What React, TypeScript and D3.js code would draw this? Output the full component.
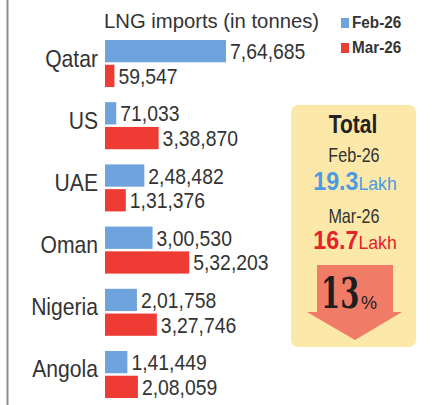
import React from "react";
import * as d3 from "d3";

const countries = ["Qatar", "US", "UAE", "Oman", "Nigeria", "Angola"];
const feb26 = [764685, 71033, 248482, 300530, 201758, 141449];
const mar26 = [59547, 338870, 131376, 532203, 327746, 208059];
const seriesNames = ["Feb-26", "Mar-26"];
const seriesColors = ["#6fa3dd", "#ee3c34"];
const totals = [19.3, 16.7];
const totalUnit = "Lakh";
const changePct = 13;
const title = "LNG imports (in tonnes)";

const W = 443;
const H = 405;
const SANS = "'Liberation Sans', Arial, sans-serif";

const fmtIN = (v: number) => {
  const s = String(Math.round(v));
  if (s.length <= 3) return s;
  const last3 = s.slice(-3);
  let rest = s.slice(0, -3);
  const parts: string[] = [];
  while (rest.length > 2) {
    parts.unshift(rest.slice(-2));
    rest = rest.slice(0, -2);
  }
  if (rest.length) parts.unshift(rest);
  return parts.join(",") + "," + last3;
};

type STProps = {
  x: number;
  y: number;
  sx?: number;
  anchor?: "start" | "middle" | "end";
  children?: React.ReactNode;
  [k: string]: any;
};
function SText({ x, y, sx = 0.88, anchor = "start", children, ...rest }: STProps) {
  return (
    <text transform={`translate(${x},${y}) scale(${sx},1)`} textAnchor={anchor} fontFamily={SANS} {...rest}>
      {children}
    </text>
  );
}

export default function App() {
  const x0 = 105;
  const x = d3.scaleLinear().domain([0, d3.max(feb26) as number]).range([0, 121]);
  const y = d3.scaleBand<string>().domain(countries).range([40, 398]).paddingInner(0.244).paddingOuter(0);
  const ys = d3.scaleBand<string>().domain(seriesNames).range([0, y.bandwidth()]).paddingInner(0.1);
  const series = [feb26, mar26];
  const labelY = [162, 223];
  const totalY = [190, 249];

  return (
    <div style={{ position: "fixed", left: 0, top: 0 }}>
      <svg width={W} height={H} style={{ display: "block", background: "#fff" }}>
        <rect x={0} y={0} width={W} height={H} fill="#ffffff" />
        <line x1={7.5} x2={7.5} y1={0} y2={H} stroke="#8c8c8c" strokeWidth={2} />
        <SText x={104} y={27.5} sx={1.04} fontSize={19.5} fill="#333">
          {title}
        </SText>
        {seriesNames.map((s, i) => (
          <g key={s}>
            <rect x={341} y={18 + i * 25} width={8} height={10} fill={seriesColors[i]} />
            <SText x={352} y={28 + i * 25} sx={0.9} fontWeight="bold" fontSize={17} fill="#333">
              {s}
            </SText>
          </g>
        ))}
        {countries.map((c, ci) => {
          const gy = y(c) as number;
          const cy = gy + y.bandwidth() / 2;
          return (
            <g key={c}>
              <SText x={98} y={cy + 3} anchor="end" fontSize={24} fill="#333">
                {c}
              </SText>
              {series.map((vals, si) => {
                const by = gy + (ys(seriesNames[si]) as number);
                const bw = x(vals[ci]);
                return (
                  <g key={si}>
                    <rect x={x0} y={by} width={bw} height={ys.bandwidth()} fill={seriesColors[si]} />
                    <SText x={x0 + bw + 4} y={by + ys.bandwidth() / 2 + 8} fontSize={22} fill="#333">
                      {fmtIN(vals[ci])}
                    </SText>
                  </g>
                );
              })}
            </g>
          );
        })}
        <rect x={291} y={105} width={125} height={242} rx={7} fill="#fce8a8" />
        <SText x={353} y={133} anchor="middle" sx={0.84} fontWeight="bold" fontSize={25} fill="#222">
          Total
        </SText>
        {seriesNames.map((s, i) => (
          <g key={s}>
            <SText x={354} y={labelY[i]} anchor="middle" sx={0.83} fontSize={19.5} fill="#333">
              {s}
            </SText>
            <SText x={355} y={totalY[i]} anchor="middle" sx={0.93} fill={i === 0 ? "#4b9be2" : "#e5222a"}>
              <tspan fontWeight="bold" fontSize={25}>{totals[i].toFixed(1)}</tspan>
              <tspan fontSize={19}>{totalUnit}</tspan>
            </SText>
          </g>
        ))}
        <polygon points="317,265 393,265 393,312 402,312 355,340 307,312 317,312" fill="#f07c68" />
        <SText x={321} y={308} sx={0.64} fontFamily="'DejaVu Serif', serif" fontWeight="bold" fontSize={43} fill="#1e1e1e">
          {changePct}
        </SText>
        <SText x={361} y={309} sx={0.95} fontSize={19} fill="#1e1e1e">
          %
        </SText>
      </svg>
    </div>
  );
}
